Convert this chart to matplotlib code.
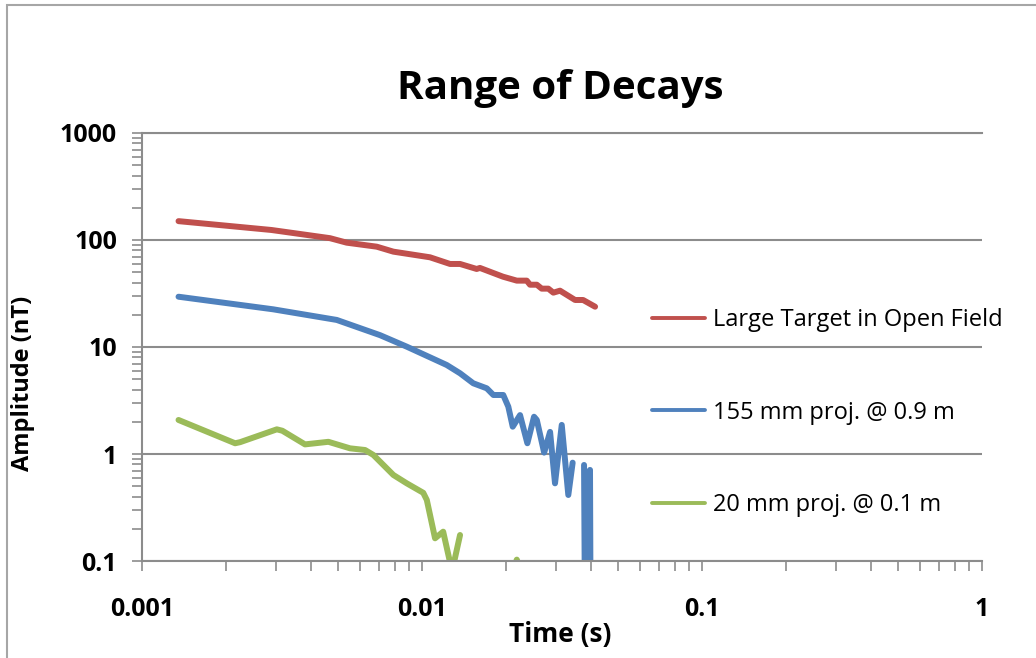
import numpy as np
import matplotlib.pyplot as plt
from matplotlib.patches import Rectangle
from matplotlib.ticker import LogLocator, FixedLocator, NullFormatter

# tempos (s) e amplitudes (nT) de cada curva; nan = trecho fora da escala log
t_large = [0.00135, 0.0029, 0.00469, 0.00538, 0.00689, 0.0079, 0.01068, 0.01259,
           0.01367, 0.01567, 0.0161, 0.01946, 0.0218, 0.02366, 0.0243, 0.0257,
           0.02676, 0.02825, 0.02944, 0.0311, 0.0352, 0.0376, 0.0415]
a_large = [150, 124, 104, 94.4, 86.6, 77.8, 68.9, 59.7, 59.7, 53.6, 54.8, 45.4,
           41.7, 41.7, 38.2, 38.2, 35.1, 35.1, 32.2, 33.6, 27.5, 27.5, 23.8]

t_155 = [0.00135, 0.00294, 0.00496, 0.00708, 0.00882, 0.01225, 0.01367, 0.01524,
         0.01703, 0.01798, 0.0195, 0.02033, 0.02108, 0.02239, 0.02378, 0.02512,
         0.0257, 0.0273, 0.02866, 0.02985, 0.03155, 0.0333, 0.03451, np.nan,
         0.0379, 0.0385, 0.0398, 0.0402]
a_155 = [29.5, 22.5, 17.9, 12.9, 10.07, 6.79, 5.68, 4.58, 4.11, 3.56, 3.56, 2.77,
         1.80, 2.31, 1.26, 2.23, 2.08, 1.03, 1.61, 0.532, 1.87, 0.414, 0.83, np.nan,
         0.79, 0.001, 0.71, 0.001]

t_20 = [0.00135, 0.00215, 0.00224, 0.00303, 0.00317, 0.00382, 0.00463, 0.00553,
        0.00626, 0.0067, 0.0079, 0.00882, 0.0101, 0.0104, 0.01113, 0.0119, 0.0128,
        0.01367, np.nan, 0.0214, 0.0218, 0.0222]
a_20 = [2.08, 1.26, 1.29, 1.70, 1.65, 1.23, 1.30, 1.13, 1.09, 0.98, 0.637, 0.532,
        0.434, 0.372, 0.163, 0.188, 0.08, 0.175, np.nan, 0.09, 0.103, 0.09]

labels = ['Large Target in Open Field', '155 mm proj. @ 0.9 m', '20 mm proj. @ 0.1 m']
cores = ['#C0504D', '#4F81BD', '#9BBB59']

x_ticks = [0.001, 0.01, 0.1, 1]
x_ticklabels = ['0.001', '0.01', '0.1', '1']
y_ticks = [0.1, 1, 10, 100, 1000]
y_ticklabels = ['0.1', '1', '10', '100', '1000']

CINZA = '#8c8c8c'
FONTE = ['Open Sans', 'DejaVu Sans']


def main():
    plt.rcParams['font.family'] = FONTE
    fig = plt.figure(figsize=(10.36, 6.58), dpi=100)
    ax = fig.add_axes([0.1371, 0.1474, 0.8108, 0.6505])

    # moldura externa do gráfico
    fig.patches.append(Rectangle((7 / 1036, -0.1), 1.2, 1.1 - 5 / 658,
                                 transform=fig.transFigure, fill=False,
                                 edgecolor='#a6a6a6', lw=1.5))

    for t, a, c, lab in zip([t_large, t_155, t_20], [a_large, a_155, a_20], cores, labels):
        ax.plot(t, a, color=c, lw=4.3, label=lab,
                solid_capstyle='round', solid_joinstyle='round')

    ax.set_xscale('log')
    ax.set_yscale('log')
    ax.set_xlim(0.001, 1)
    ax.set_ylim(0.1, 1000)

    ax.xaxis.set_major_locator(FixedLocator(x_ticks))
    ax.set_xticklabels(x_ticklabels)
    ax.yaxis.set_major_locator(FixedLocator(y_ticks))
    ax.set_yticklabels(y_ticklabels)
    ax.xaxis.set_minor_locator(LogLocator(base=10, subs=np.arange(2, 10)))
    ax.yaxis.set_minor_locator(LogLocator(base=10, subs=np.arange(2, 10)))
    ax.xaxis.set_minor_formatter(NullFormatter())
    ax.yaxis.set_minor_formatter(NullFormatter())

    ax.tick_params(which='both', direction='out', length=7, width=1.2, color=CINZA)
    ax.tick_params(axis='y', which='major', pad=11, labelsize=18)
    ax.tick_params(axis='x', which='major', pad=19, labelsize=18)
    for lab in ax.get_xticklabels() + ax.get_yticklabels():
        lab.set_fontweight('bold')

    ax.grid(True, which='major', axis='y', color=CINZA, lw=1.5)
    ax.set_axisbelow(True)
    for lado in ['left', 'bottom', 'top']:
        ax.spines[lado].set_color(CINZA)
        ax.spines[lado].set_linewidth(1.5)
    ax.spines['right'].set_visible(False)

    ax.set_xlabel('Time (s)', fontsize=19, fontweight='bold')
    ax.xaxis.set_label_coords(0.4976, -0.14)
    ax.set_ylabel('Amplitude (nT)', fontsize=17, fontweight='bold')
    ax.yaxis.set_label_coords(-0.127, 0.416)

    fig.text(560 / 1036, 1 - 88 / 658, 'Range of Decays', fontsize=29,
             fontweight='bold', ha='center', va='center')

    leg = ax.legend(loc='upper left', bbox_to_anchor=(652 / 1036, 1 - 308 / 658),
                    bbox_transform=fig.transFigure, frameon=False, fontsize=17,
                    handlelength=2.25, handletextpad=0.34, labelspacing=2.91,
                    borderpad=0, borderaxespad=0)
    for h in leg.legend_handles:
        h.set_linewidth(2.8)

    plt.savefig('out.png', dpi=100)


if __name__ == "__main__":
    main()
